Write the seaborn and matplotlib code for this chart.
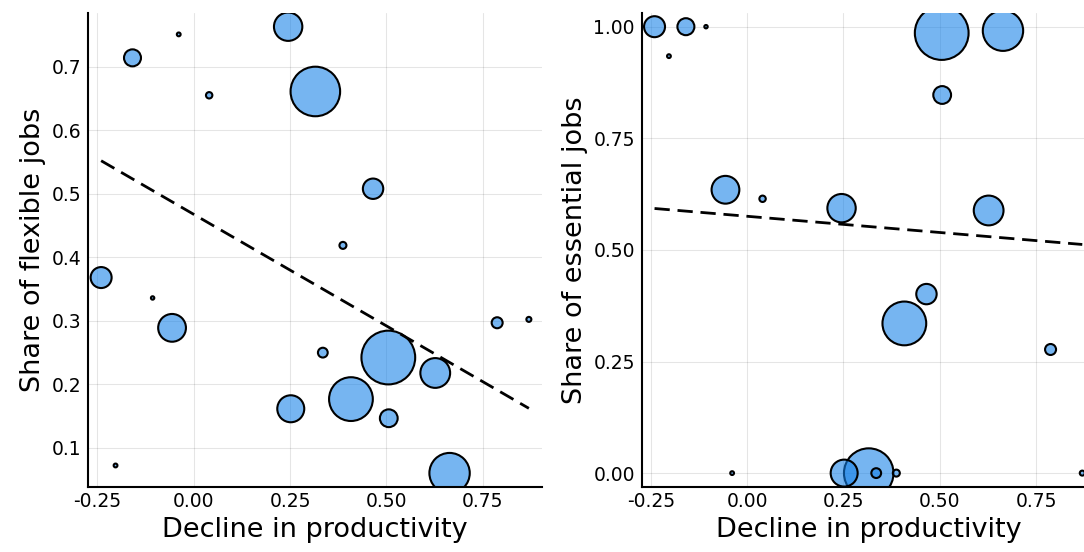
import numpy as np
import pandas as pd
import matplotlib
matplotlib.use("Agg")
import matplotlib.pyplot as plt
import seaborn as sns

# ---------------------------------------------
# Data: one bubble per sector
# ---------------------------------------------
decline = [0.245, -0.159, -0.039, 0.040, 0.3156, 0.4654, 0.3872, -0.2404, -0.1068, -0.0563,
           0.335, 0.505, 0.6268, 0.408, 0.2518, 0.5062, 0.664, -0.203, 0.7875, 0.8698]
flexible = [0.7627, 0.7137, 0.7506, 0.6548, 0.6608, 0.5078, 0.4187, 0.3681, 0.336, 0.289,
            0.250, 0.2423, 0.218, 0.1769, 0.1617, 0.1468, 0.0605, 0.0725, 0.297, 0.3023]
essential = [0.5935, 1.0, 0.0, 0.6145, 0.0, 0.401, 0.0, 1.0, 1.0, 0.6347,
             0.0, 0.9858, 0.5883, 0.3353, 0.0, 0.847, 0.991, 0.934, 0.2769, 0.0]
# sector weight (marker radius and regression weight)
weight = [14.2, 8.5, 1.9, 3.2, 24.8, 10.2, 3.5, 10.5, 1.7, 13.9,
          4.9, 26.9, 14.9, 21.9, 13.5, 8.9, 20.2, 1.9, 5.5, 2.5]

df = pd.DataFrame({"decline": decline, "flexible": flexible,
                   "essential": essential, "weight": weight})

# ---------------------------------------------
# Style
# ---------------------------------------------
sns.set_style("white")
plt.rcParams.update({
    "font.family": "DejaVu Sans",
    "axes.unicode_minus": False,
    "xtick.labelsize": 13.5,
    "ytick.labelsize": 13.5,
    "axes.labelsize": 19.5,
    "text.color": "black",
    "axes.labelcolor": "black",
    "xtick.color": "black",
    "ytick.color": "black",
})

fill = (0.08, 0.50, 0.91, 0.58)
W, H = 1084, 552
fig = plt.figure(figsize=(W / 100, H / 100), dpi=100)
ax1 = fig.add_axes([88.3 / W, (H - 486.5) / H, 453.4 / W, 473.2 / H])
ax2 = fig.add_axes([641.7 / W, (H - 486.5) / H, 453.4 / W, 473.2 / H])

panels = [(ax1, "flexible", "Share of flexible jobs", [0.1, 0.2, 0.3, 0.4, 0.5, 0.6, 0.7], "{:.1f}"),
          (ax2, "essential", "Share of essential jobs", [0.0, 0.25, 0.5, 0.75, 1.0], "{:.2f}")]

xt = [-0.25, 0.0, 0.25, 0.5, 0.75]
for ax, col, ylab, yt, fmt in panels:
    sns.scatterplot(data=df, x="decline", y=col, ax=ax, s=2.07 * df["weight"] ** 2,
                    color=fill[:3], edgecolor="black", linewidth=1.5, legend=False)
    pts = ax.collections[-1]
    pts.set_alpha(None)
    pts.set_facecolor(fill)
    pts.set_edgecolor("black")

    # weighted linear fit
    b1, b0 = np.polyfit(df["decline"], df[col], 1, w=np.sqrt(df["weight"]))
    xs = np.array([df["decline"].min(), df["decline"].max()])
    ax.plot(xs, b0 + b1 * xs, color="black", lw=2.0, ls=(0, (5.5, 2.8)))

    ax.margins(0.03)
    ax.set_xticks(xt)
    ax.set_xticklabels([f"{v:.2f}" for v in xt])
    ax.set_yticks(yt)
    ax.set_yticklabels([fmt.format(v) for v in yt])
    ax.grid(True, color="black", alpha=0.1, lw=0.8)
    ax.set_axisbelow(True)
    for sp in ["top", "right"]:
        ax.spines[sp].set_visible(False)
    for sp in ["left", "bottom"]:
        ax.spines[sp].set_linewidth(1.5)
        ax.spines[sp].set_color("black")
    ax.tick_params(direction="in", length=5, width=1.2, pad=5)
    ax.tick_params(axis="x", pad=4)
    ax.set_xlabel("Decline in productivity", labelpad=4)
    ax.set_ylabel(ylab, labelpad=4)

fig.savefig("out.png", dpi=100)
